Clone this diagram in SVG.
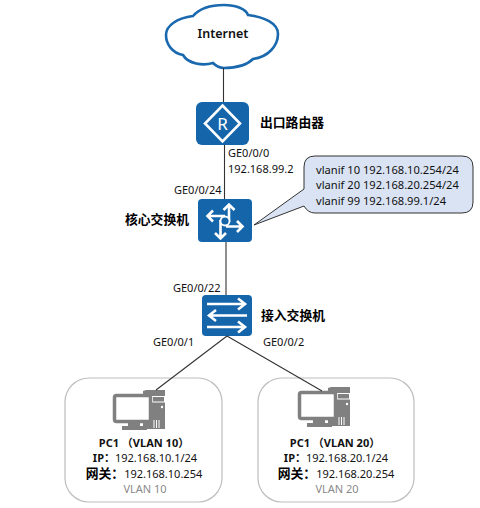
<svg xmlns="http://www.w3.org/2000/svg" width="480" height="508" viewBox="0 0 480 508">
<style>
text{font-family:"Noto Sans","Noto Sans CJK SC",sans-serif;font-size:11px;fill:#111}
.b{font-weight:700}
.cn{font-size:12.800px;font-weight:700;fill:#000}
.tile{fill:#1565ab}
.ic{fill:none;stroke:#fff;stroke-width:2.600;stroke-linejoin:miter}
.ln{stroke:#333;stroke-width:1.100;fill:none}
.box{fill:#fff;stroke:#bdbdbd;stroke-width:1.200}
.pc{fill:#808080}
.w{fill:none;stroke:#fff;stroke-width:1}
</style>
<rect width="480" height="508" fill="#fff"/>
<g id="internet">
<path d="M193 16C200 8 212 5 224 5C236 5 246 9 248 15C264 17 278 23 278 34C278 46 268 57 253 59C247 65 236 68 224 68C220 68 216 66 213 63C203 66 188 64 183 55C172 53 166 44 166 35C166 25 178 18 193 16Z" fill="#fff" stroke="#1a69ae" stroke-width="2.600"/>
<text x="223" y="38" text-anchor="middle" style="font-size:12.500px;font-weight:600">Internet</text>
</g>
<g id="router">
<rect class="tile" x="196" y="102" width="53" height="43" rx="6"/>
<path class="ic" d="M222.500 105.500L240 123.500L222.500 141.500L205 123.500Z"/>
<text x="222.500" y="130" text-anchor="middle" style="font-size:17px;fill:#fff">R</text>
<text class="cn" x="260" y="127">出口路由器</text>
<text x="228" y="157">GE0/0/0</text>
<text x="228" y="173">192.168.99.2</text>
</g>
<g id="core-switch">
<text x="174" y="194">GE0/0/24</text>
<rect class="tile" x="198" y="199" width="54" height="43" rx="4"/>
<path class="ic" d="M208 216H225M213 210.500L207.500 216L213 221.500M229 222V205M223.500 210L229 204.500L234.500 210M226 226.500H242.500M237 221L242.500 226.500L237 232M220.500 220V238M215 233L220.500 238.500L226 233"/>
<circle cx="225" cy="221" r="4.500" fill="#1565ab" stroke="#fff" stroke-width="1.800"/>
<text class="cn" x="189" y="224" text-anchor="end">核心交换机</text>
</g>
<g id="callout">
<path d="M315 156H462Q473 156 473 167V202Q473 213 462 213H315Q308 213 304 206L254 225L304 189V167Q304 156 315 156Z" fill="#dae3f3" stroke="#333" stroke-width="1"/>
<text x="316" y="174" style="font-size:11.150px">vlanif 10 192.168.10.254/24</text>
<text x="316" y="189" style="font-size:11.150px">vlanif 20 192.168.20.254/24</text>
<text x="316" y="205" style="font-size:11.150px">vlanif 99 192.168.99.1/24</text>
</g>
<g id="access-switch">
<text x="173" y="292">GE0/0/22</text>
<rect class="tile" x="202" y="295" width="50" height="41" rx="4"/>
<path class="ic" d="M207 304H244M238 298.500L245 304L238 309.500M247 315.500H210M216 310L209 315.500L216 321M207 327H244M238 321.500L245 327L238 332.500"/>
<text class="cn" x="261" y="320">接入交换机</text>
<text x="153" y="346">GE0/0/1</text>
<text x="263" y="346">GE0/0/2</text>
</g>
<g id="pc1">
<rect class="box" x="65" y="378" width="157" height="124" rx="24"/>
<path class="pc" d="M143 391L146 390H165V429H143Z"/>
<rect class="w" x="152.500" y="396.500" width="12" height="5.500"/>
<circle cx="162" cy="407" r="1.200" fill="#fff"/>
<path class="w" d="M154 420v8M156.500 420v8M159 420v8"/>
<rect x="114.500" y="395.500" width="36" height="26" rx="2" fill="#fff" stroke="#808080" stroke-width="3.500"/>
<rect x="128" y="423" width="12" height="4" fill="#808080"/>
<rect x="122" y="426" width="25" height="4" fill="#808080"/>
<text class="b" x="144" y="447" text-anchor="middle">PC1 （VLAN 10）</text>
<text x="145" y="462" text-anchor="middle"><tspan font-weight="700">IP：</tspan>192.168.10.1/24</text>
<text x="144" y="478" text-anchor="middle"><tspan class="cn">网关：</tspan>192.168.10.254</text>
<text x="145" y="493" text-anchor="middle" style="fill:#8a8a8a">VLAN 10</text>
</g>
<g id="pc2">
<rect class="box" x="258" y="378" width="156" height="124" rx="24"/>
<path class="pc" d="M328 388L331 387H350V426H328Z"/>
<rect class="w" x="337.500" y="393.500" width="12" height="5.500"/>
<circle cx="347" cy="404" r="1.200" fill="#fff"/>
<path class="w" d="M339 417v8M341.500 417v8M344 417v8"/>
<rect x="299.500" y="392.500" width="36" height="26" rx="2" fill="#fff" stroke="#808080" stroke-width="3.500"/>
<rect x="313" y="420" width="12" height="4" fill="#808080"/>
<rect x="307" y="423" width="25" height="4" fill="#808080"/>
<text class="b" x="335" y="447" text-anchor="middle">PC1 （VLAN 20）</text>
<text x="336" y="462" text-anchor="middle"><tspan font-weight="700">IP：</tspan>192.168.20.1/24</text>
<text x="336" y="478" text-anchor="middle"><tspan class="cn">网关：</tspan>192.168.20.254</text>
<text x="337" y="493" text-anchor="middle" style="fill:#8a8a8a">VLAN 20</text>
</g>
<g id="connectors">
<line class="ln" x1="223.500" y1="68" x2="223.500" y2="102"/>
<line class="ln" x1="224.500" y1="145" x2="224.500" y2="199"/>
<line class="ln" x1="226" y1="242" x2="226" y2="295"/>
<line class="ln" x1="227" y1="336" x2="156" y2="390"/>
<line class="ln" x1="227" y1="336" x2="322" y2="391"/>
</g>
</svg>
